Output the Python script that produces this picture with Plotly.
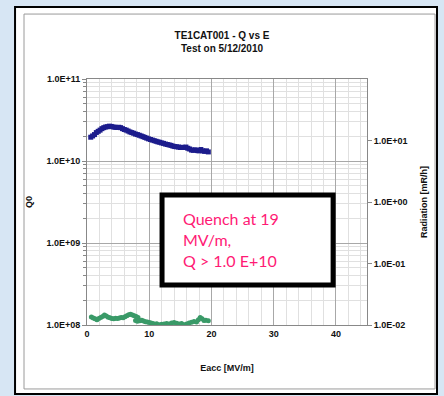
import plotly.graph_objects as go

# ---- data ----
e_q = [0.6, 0.9, 1.2, 1.5, 1.8, 2.1, 2.4, 2.7, 3.0, 3.3, 3.6, 3.9, 4.2, 4.5, 4.8, 5.1,
       5.4, 5.7, 6.0, 6.3, 6.6, 6.9, 7.2, 7.5, 7.8, 8.1, 8.4, 8.7, 9.0, 9.3, 9.6, 9.9,
       10.2, 10.5, 10.8, 11.1, 11.4, 11.7, 12.0, 12.3, 12.6, 12.9, 13.2, 13.5, 13.8,
       14.1, 14.4, 14.7, 15.0, 15.3, 15.6, 15.9, 16.2, 16.5, 16.8, 17.1, 17.4, 17.7,
       18.0, 18.3, 18.6, 18.9, 19.2, 19.5]
q0 = [1.95e10, 2.02e10, 2.10e10, 2.22e10, 2.30e10, 2.38e10, 2.48e10, 2.55e10, 2.60e10,
      2.62e10, 2.66e10, 2.64e10, 2.60e10, 2.58e10, 2.56e10, 2.58e10, 2.55e10, 2.48e10,
      2.42e10, 2.38e10, 2.32e10, 2.26e10, 2.22e10, 2.18e10, 2.13e10, 2.10e10, 2.06e10,
      2.02e10, 1.98e10, 1.94e10, 1.90e10, 1.86e10, 1.83e10, 1.80e10, 1.77e10, 1.74e10,
      1.71e10, 1.69e10, 1.66e10, 1.64e10, 1.61e10, 1.59e10, 1.57e10, 1.55e10, 1.52e10,
      1.50e10, 1.49e10, 1.48e10, 1.46e10, 1.47e10, 1.46e10, 1.48e10, 1.43e10, 1.40e10,
      1.36e10, 1.35e10, 1.37e10, 1.34e10, 1.33e10, 1.38e10, 1.33e10, 1.31e10, 1.33e10,
      1.29e10]

e_r = [0.7, 1.0, 1.3, 1.6, 1.9, 2.2, 2.5, 2.8, 3.1, 3.4, 3.7, 4.0, 4.3, 4.6, 4.9, 5.2,
       5.5, 5.8, 6.1, 6.4, 6.7, 7.0, 7.3, 7.6, 7.9, 8.2, 7.8, 8.1, 8.5, 8.8, 9.1, 9.4,
       9.7, 10.0, 10.3, 10.6, 10.9, 11.2, 11.6, 12.0, 12.4, 12.8, 13.2, 13.6, 14.0,
       14.4, 14.8, 15.2, 15.6, 16.0, 16.4, 16.8, 17.2, 17.6, 17.9, 18.2, 18.5, 18.8,
       19.1, 19.5]
radiation = [0.0135, 0.0130, 0.0126, 0.0122, 0.0128, 0.0132, 0.0138, 0.0145, 0.0140,
             0.0134, 0.0131, 0.0128, 0.0126, 0.0129, 0.0127, 0.0130, 0.0133, 0.0131,
             0.0136, 0.0142, 0.0147, 0.0150, 0.0146, 0.0141, 0.0138, 0.0132, 0.0118,
             0.0115, 0.0117, 0.0120, 0.0116, 0.0113, 0.0112, 0.0110, 0.0108, 0.0106,
             0.0103, 0.0105, 0.0101, 0.0103, 0.0104, 0.0106, 0.0104, 0.0108, 0.0110,
             0.0107, 0.0104, 0.0106, 0.0101, 0.0104, 0.0108, 0.0111, 0.0114, 0.0112,
             0.0122, 0.0133, 0.0126, 0.0118, 0.0120, 0.0117]

x_ticks = [0, 10, 20, 30, 40]
q_ticks = [1e8, 1e9, 1e10, 1e11]
q_tick_text = ["1.0E+08", "1.0E+09", "1.0E+10", "1.0E+11"]
r_ticks = [1e-2, 1e-1, 1e0, 1e1]
r_tick_text = ["1.0E-02", "1.0E-01", "1.0E+00", "1.0E+01"]

title_lines = ["TE1CAT001 - Q vs E", "Test on 5/12/2010"]
note_lines = ["Quench at 19", "MV/m,", "Q > 1.0 E+10"]

FONT = "Liberation Sans Narrow, Liberation Sans, Arial"


def bold(items):
    return ["<b>%s</b>" % t for t in items]


fig = go.Figure()
fig.add_trace(go.Scatter(
    x=e_q, y=q0, mode="markers", name="Q0",
    marker=dict(symbol="square", size=5, color="#1c1c8c"),
))
fig.add_trace(go.Scatter(
    x=e_r, y=radiation, mode="markers", name="Radiation", yaxis="y2",
    marker=dict(symbol="circle", size=5, color="#3a9a68"),
))

fig.update_layout(
    width=444, height=396,
    margin=dict(l=87, r=77, t=79, b=71, autoexpand=False),
    paper_bgcolor="#d7e6f4",
    plot_bgcolor="white",
    showlegend=False,
    font=dict(family=FONT, size=9, color="#111"),
    title=dict(
        text="<b>" + "<br>".join(title_lines) + "</b>",
        x=0.5, xanchor="center", y=0.902, yanchor="middle",
        font=dict(family=FONT, size=10, color="#111"),
    ),
    xaxis=dict(
        range=[0, 45], tickvals=x_ticks, ticktext=bold(x_ticks),
        showgrid=True, gridcolor="#a8a8a8", gridwidth=1,
        minor=dict(dtick=2, showgrid=True, gridcolor="#e0e0e0"),
        showline=True, linecolor="#888", mirror=True,
        ticks="", zeroline=False,
        title=dict(text="<b>Eacc [MV/m]</b>", font=dict(family=FONT, size=9), standoff=26),
        tickfont=dict(family=FONT, size=9),
    ),
    yaxis=dict(
        type="log", range=[8, 11],
        tickvals=q_ticks, ticktext=bold(q_tick_text),
        showgrid=True, gridcolor="#a8a8a8",
        minor=dict(dtick="D1", showgrid=True, gridcolor="#e0e0e0",
                   ticks="outside", ticklen=3, tickcolor="#888"),
        showline=True, linecolor="#888",
        ticks="outside", ticklen=4, tickcolor="#888",
        title=dict(text="<b>Q0</b>", font=dict(family=FONT, size=9), standoff=12),
        tickfont=dict(family=FONT, size=9),
    ),
    yaxis2=dict(
        type="log", range=[-2, 2], overlaying="y", side="right",
        tickvals=r_ticks, ticktext=bold(r_tick_text),
        showgrid=False, showline=True, linecolor="#888",
        ticks="outside", ticklen=4, tickcolor="#888",
        title=dict(text="<b>Radiation [mR/h]</b>", font=dict(family=FONT, size=9), standoff=14),
        tickfont=dict(family=FONT, size=9),
    ),
)

# chart frame (white area with black/grey borders)
fig.add_shape(type="rect", xref="paper", yref="paper",
              x0=-0.257, x1=1.25, y0=-0.280, y1=1.293,
              line=dict(color="black", width=2), fillcolor="white", layer="below")
fig.add_shape(type="rect", xref="paper", yref="paper",
              x0=-0.225, x1=1.243, y0=-0.260, y1=1.264,
              line=dict(color="#9a9a9a", width=1), fillcolor="rgba(0,0,0,0)", layer="below")

# note box
fig.add_shape(type="rect", xref="paper", yref="paper",
              x0=0.268, x1=0.879, y0=0.163, y1=0.528,
              line=dict(color="black", width=5), fillcolor="white", layer="above")
fig.add_annotation(
    xref="paper", yref="paper", x=0.337, y=0.346,
    xanchor="left", yanchor="middle", align="left", showarrow=False,
    text="<br>".join(note_lines),
    font=dict(family="Lato, Open Sans, sans-serif", size=16, color="#ff1a75"),
)

fig.write_html("out.html", config={"displayModeBar": False},
               post_script="document.body.style.margin='0px';")
